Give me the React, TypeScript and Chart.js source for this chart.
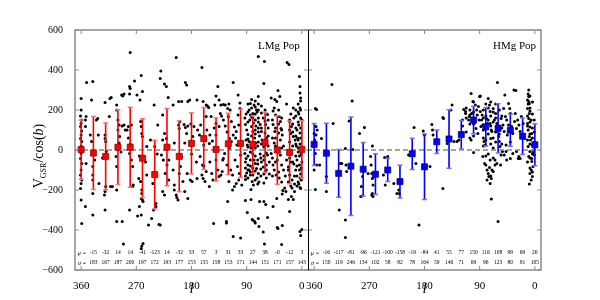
import React, { useEffect, useRef } from 'react';
import { Chart, registerables } from 'chart.js';
Chart.register(...registerables);

const FONT = '"Liberation Serif", "Times New Roman", serif';

// Galactic longitude bins (deg)
const BINS = [360, 340, 320, 300, 280, 260, 240, 220, 200, 180, 160, 140, 120, 100, 80, 60, 40, 20, 0];
// LMg population: mean and dispersion per bin
const L_MU = [2, -15, -32, 14, 14, -41, -123, 14, -32, 33, 57, 3, 31, 33, 27, 38, -0, -12, 3];
const L_SIGMA = [148, 183, 167, 187, 200, 197, 172, 193, 177, 153, 155, 158, 153, 171, 144, 151, 171, 157, 143];
// HMg population
const R_MU = [28, -16, -117, -81, -96, -121, -100, -158, -19, -84, 41, 55, 77, 150, 116, 108, 99, 69, 26];
const R_SIGMA = [105, 150, 119, 246, 134, 102, 58, 82, 78, 164, 59, 146, 71, 69, 96, 123, 80, 91, 105];

const X_TICK_LABELS = [360, 270, 180, 90, 0];
const Y_TICKS = [-600, -400, -200, 0, 200, 400, 600];

// individual stars [l, V/cos(b)]
const L_DOTS: number[][] = [
  [360,258],[360,200],[361,170],[359,150],[360,133],[361,117],[359,95],[360,75],[361,58],[359,42],[360,20],[352,167],[353,150],[353,117],
  [360,-17],[361,-42],[359,-67],[360,-100],[361,-125],[359,-150],[360,-167],[361,-192],[360,-250],[359,-367],[353,-283],[352,-67],
  [351,338],[341,342],[343,250],[333,158],[335,150],[343,42],[341,-25],[341,-83],[341,-125],[341,-150],[341,-217],[341,-325],[331,-167],[345,75],[338,-50],
  [321,237],[313,258],[311,262],[321,75],[321,58],[320,42],[332,75],[314,167],[320,-183],[321,-208],[322,-225],[321,-300],[309,-183],[312,-183],[319,-8],[325,-40],
  [302,225],[302,200],[292,270],[290,280],[294,275],[300,150],[298,125],[300,100],[293,120],[290,125],[288,100],[297,67],[302,-83],[302,-200],[302,-358],[293,-358],[291,-470],[298,35],[303,-33],[295,-10],
  [280,488],[281,317],[280,308],[281,280],[273,345],[269,275],[278,125],[283,117],[285,100],[281,-17],[278,-50],[276,-83],[275,-175],[276,-183],[281,-300],[283,60],[280,30],
  [262,372],[260,292],[264,250],[263,142],[262,117],[261,83],[260,67],[253,17],[266,-142],[263,-158],[261,-200],[261,-217],[262,-242],[260,-250],[259,-258],[265,-283],[262,-325],[268,-330],[261,-480],[262,-492],[259,-467],[265,-30],[255,-60],
  [241,225],[235,125],[240,17],[253,-125],[243,-167],[238,-267],[238,-283],[250,-375],[233,-372],[231,-375],[245,-342],[242,-300],[230,395],[231,357],[247,50],[236,-20],
  [224,330],[221,317],[227,175],[218,263],[224,83],[221,58],[227,50],[227,-208],[224,-225],[229,-25],[226,-50],[223,-117],[217,-150],[217,-50],[220,-75],
  [210,225],[205,463],[201,242],[199,142],[201,125],[200,108],[208,35],[208,-175],[208,-200],[205,-225],[204,-237],[202,-250],[200,-117],[198,-83],[194,-158],[191,-208],[186,-242],[187,-117],[210,-100],[196,-35],
  [196,242],[190,338],[188,325],[186,242],[183,250],[181,130],[186,120],[190,113],[192,128],[188,83],[191,35],[178,67],[176,117],[182,-150],[179,-158],[171,-142],[163,-125],[161,-142],[180,-20],[172,-60],
  [163,412],[171,250],[161,242],[156,225],[154,220],[152,212],[156,167],[148,167],[157,50],[151,33],[165,125],[156,-108],[158,-158],[151,-183],[160,-80],
  [170,100],[167,75],[160,25],[155,100],[150,75],[146,45],[143,110],[166,-33],[162,-75],[150,-60],[147,-117],[145,-150],
  [142,225],[140,270],[137,317],[135,250],[132,225],[140,133],[135,117],[140,75],[144,-367],[140,-50],[137,-100],[135,-133],[132,-125],[130,-108],[129,-50],[128,-42],[123,-358],[131,170],[128,228],[125,225],
  [133,183],[128,150],[125,120],[122,90],[118,58],[115,142],[110,115],[108,60],[106,25],[126,-17],[122,-75],[116,-100],[113,-125],[109,-50],[105,-83],[102,-117],[100,-25],
  [112,337],[121,208],[120,167],[104,275],[101,235],[101,208],[104,175],[103,125],[107,92],[112,75],[115,42],[118,8],[119,-157],[121,-257],[123,-365],[112,-433],[100,-440],[119,230],[117,200],[110,-183],[113,-200],[107,-167],[103,-150],[98,-175],
  [82,252],[71,268],[78,225],[76,215],[74,200],[84,233],[86,200],[80,183],[71,468],[61,443],[62,332],[50,260],[44,252],[45,210],[39,297],[36,267],[41,242],
  [93,160],[92,127],[90,100],[88,78],[91,50],[89,25],[85,150],[82,117],[80,93],[77,60],[75,35],[91,180],[84,175],[79,135],[73,190],[71,160],[68,127],[66,93],[63,160],[59,127],[56,177],[71,110],[80,160],[75,120],[69,70],[65,50],[86,42],[60,85],[58,60],[83,10],[72,20],[62,15],
  [88,230],[88,190],[88,140],[88,55],[88,15],[82,210],[82,165],[82,70],[82,30],[76,245],[76,180],[76,150],[76,100],[76,80],[76,10],
  [71,230],[71,200],[71,140],[71,90],[71,40],[66,220],[66,185],[66,110],[66,30],[60,200],[60,145],[60,40],[55,150],[55,110],[55,70],[55,20],
  [47,195],[47,128],[44,93],[43,60],[45,35],[37,167],[35,142],[34,108],[32,75],[35,50],[30,20],
  [48,150],[48,60],[48,-40],[48,-130],[43,175],[43,110],[43,20],[43,-60],[38,200],[38,130],[38,85],[38,-10],[38,-110],[33,160],[33,100],[33,10],[33,-160],
  [20,143],[17,117],[18,83],[14,67],[11,50],[8,100],[5,125],[3,85],[7,60],[9,20],[3,30],[13,160],[4,367],[3,318],[3,285],[2,245],[3,210],[5,180],[0,150],[24,437],[21,428],[14,210],[18,180],[25,230],[10,200],[6,230],
  [20,150],[20,100],[20,40],[20,-40],[15,130],[15,90],[15,20],[15,-60],[10,170],[10,110],[10,70],[10,30],[10,-30],[6,190],[6,140],[6,50],[6,10],[6,-10],[2,260],[2,200],[2,160],[2,110],[2,60],[2,5],
  [22,-100],[22,-160],[18,-60],[18,-180],[12,-130],[12,-170],[8,-80],[8,-130],[8,-180],[4,-30],[4,-100],[1,-150],[1,-90],
  [93,-17],[91,-42],[88,-75],[86,-100],[84,-125],[81,-158],[78,-50],[76,-67],[74,-92],[71,-117],[68,-20],[66,-60],[63,-85],[60,-110],[58,-140],[56,-25],[73,-140],[79,-175],[83,-198],[92,-148],[90,-115],[70,-160],[62,-30],
  [92,-60],[92,-90],[92,-130],[88,-30],[88,-100],[88,-140],[84,-10],[84,-50],[84,-80],[84,-110],[80,-20],[80,-90],[80,-125],[76,-30],[76,-105],[76,-150],
  [72,-50],[72,-70],[72,-170],[67,-40],[67,-95],[67,-130],[62,-50],[62,-120],[62,-165],[58,-15],[58,-75],[58,-100],[53,-60],[53,-120],
  [92,-252],[83,-248],[89,-312],[81,-348],[76,-365],[71,-343],[69,-257],[62,-257],[59,-273],[63,-410],[56,-337],[61,-470],[80,-350],[77,-358],[70,-383],
  [41,-243],[40,-387],[32,-377],[33,-473],[31,-203],[32,-220],[28,-190],[26,-207],[22,-248],[17,-232],[14,-248],[12,-207],[16,-190],[3,-187],[2,-193],[0,-398],[2,-427],[3,-408],[47,-283],[39,-392],[20,-308],
  [50,-17],[47,-75],[45,-100],[42,-125],[40,-50],[37,-140],[35,-25],[33,-75],[30,-100],[27,-130],[25,-50],[22,-85],[20,-125],[18,-20],[16,-150],[13,-70],[10,-100],[8,-50],[6,-160],[4,-75],[2,-120],[1,-20],[3,-140],[5,-170],[0,-60],
];

const R_DOTS: number[][] = [
  [358,208],[356,203],[357,117],[355,100],[360,83],[348,58],[357,75],[359,50],[331,328],[329,133],[309,7],[298,245],[303,145],[286,83],[278,113],[265,20],
  [358,-17],[356,-75],[360,-100],[358,-197],[351,-75],[340,-133],[340,-208],[341,-8],[319,-300],[317,-67],[315,-67],[309,-350],[309,-437],[308,-75],[307,-108],[297,3],[284,-233],[282,-230],[281,-133],[283,-183],[272,-117],[268,-33],[267,-75],[266,-117],[265,-142],[264,-175],[265,-217],[266,-225],[264,-233],[262,-133],
  [245,-37],[240,-33],[247,-125],[244,-175],[230,-167],[222,-200],[221,-217],[225,-217],[206,-25],[194,-67],[189,-375],[171,-83],[150,-192],
  [197,113],[182,95],[180,75],[168,128],[167,100],[166,75],[160,50],[150,162],[143,33],[149,158],[135,225],[137,200],[132,42],[127,42],[124,50],[116,203],[113,183],[108,150],[104,283],[103,183],[104,50],[107,167],
  [95,200],[92,217],[90,267],[89,270],[89,192],[87,150],[85,125],[84,100],[82,-67],[83,42],[81,25],[76,258],[74,225],[73,192],[73,133],[71,100],[72,58],[70,92],[73,-50],[70,-100],[72,-130],[71,-142],[74,-88],[71,-245],[65,-50],[64,183],[62,133],[61,338],[59,67],[58,42],[57,17],[56,-75],[55,-25],[53,-8],[49,275],[51,208],[48,167],[46,150],[47,25],[46,-50],[43,233],[41,208],[40,183],[43,125],[42,92],[40,40],[60,-358],[34,300],[31,297],[32,183],[33,142],[30,108],[27,-42],[22,167],[19,133],[24,92],[17,58],[24,-42],
  [113,192],[106,175],[101,242],[97,225],[94,175],[91,150],[88,117],[99,133],[96,108],[93,83],[86,175],[79,158],[77,133],[68,208],[66,150],[63,117],[55,158],[52,125],[50,92],[45,75],[38,117],[36,83],[28,150],[26,125],
  [84,200],[84,160],[84,60],[84,20],[80,230],[80,170],[80,110],[80,50],[80,-30],[76,210],[76,150],[76,80],[76,-20],[72,240],[72,170],[72,120],[72,30],
  [68,190],[68,140],[68,60],[68,10],[68,-40],[64,230],[64,160],[64,90],[64,40],[58,200],[58,120],[58,80],[54,170],[54,110],[54,30],
  [118,150],[118,120],[112,210],[112,160],[112,90],[106,200],[106,130],[106,60],[100,240],[100,190],[100,130],[100,70],
  [11,280],[10,267],[9,233],[10,242],[12,208],[9,183],[6,150],[10,158],[12,133],[8,115],[11,100],[5,83],[9,67],[7,50],[4,25],[11,17],[8,-8],[10,-33],[5,-58],[3,-83],[6,-100],[8,-117],[4,-133],[6,-150],[9,-170],[5,-42],[2,0],[1,-25],[3,-12],[10,300],[11,230],[8,195],
  [12,250],[12,170],[12,120],[12,50],[12,-60],[8,270],[8,210],[8,140],[8,80],[8,30],[8,-40],[8,-90],[4,240],[4,180],[4,110],[4,60],[4,-20],[4,-110],[1,150],[1,90],[1,40],
  [100,-12],[85,-33],[80,-75],[78,-100],[76,-117],[75,-133],[78,-150],[73,-167],[68,-108],[65,-75],[62,-67],[50,-25],[47,-8],[40,-42],[36,-17],[30,-8],[26,-33],
];

// panel coordinate transforms (left panel occupies 0..380, right panel 380..760)
const toPL = (l: number) => 370 - l;
const toPR = (l: number) => 750 - l;
const SPLIT = 380;

const fmt = (v: number) => (v < 0 || Object.is(v, -0) ? '-' + Math.abs(v) : String(v));

function errorLines(mu: number[], sig: number[], tp: (l: number) => number) {
  const pts: any[] = [];
  BINS.forEach((l, i) => {
    const p = tp(l);
    pts.push({ x: p, y: mu[i] - sig[i] }, { x: p, y: mu[i] + sig[i] }, { x: p, y: null });
  });
  return pts;
}
function capLines(mu: number[], sig: number[], tp: (l: number) => number) {
  const pts: any[] = [];
  BINS.forEach((l, i) => {
    const p = tp(l);
    for (const v of [mu[i] - sig[i], mu[i] + sig[i]]) {
      pts.push({ x: p - 4, y: v }, { x: p + 4, y: v }, { x: p, y: null });
    }
  });
  return pts;
}

const X_TICKS = [
  ...X_TICK_LABELS.map((l) => ({ p: toPL(l), l })),
  ...X_TICK_LABELS.map((l) => ({ p: toPR(l), l })),
];

const decor = {
  id: 'decor',
  afterDatasetsDraw(chart: any) {
    const { ctx, chartArea: a, scales } = chart;
    const x = scales.x, y = scales.y;
    ctx.save();
    // frame
    ctx.strokeStyle = '#8a8a8a';
    ctx.lineWidth = 1.5;
    ctx.strokeRect(a.left, a.top, a.right - a.left, a.bottom - a.top);
    // ticks (inward)
    ctx.lineWidth = 1;
    const xd = x.getPixelForValue(SPLIT);
    ctx.beginPath();
    for (const v of Y_TICKS) {
      const py = y.getPixelForValue(v);
      ctx.moveTo(a.left, py); ctx.lineTo(a.left + 4, py);
      ctx.moveTo(a.right - 4, py); ctx.lineTo(a.right, py);
      ctx.moveTo(xd - 4, py); ctx.lineTo(xd + 4, py);
    }
    for (const t of X_TICKS) {
      const px = x.getPixelForValue(t.p);
      ctx.moveTo(px, a.bottom); ctx.lineTo(px, a.bottom - 4);
      ctx.moveTo(px, a.top); ctx.lineTo(px, a.top + 4);
    }
    ctx.stroke();
    // divider
    ctx.strokeStyle = '#000';
    ctx.lineWidth = 1;
    ctx.beginPath();
    ctx.moveTo(Math.round(xd) + 0.5, a.top);
    ctx.lineTo(Math.round(xd) + 0.5, a.bottom);
    ctx.stroke();

    // panel names
    ctx.fillStyle = '#000';
    ctx.font = `normal 11px ${FONT}`;
    ctx.textBaseline = 'alphabetic';
    ctx.textAlign = 'left';
    ctx.fillText('LMg Pop', 258, 49);
    ctx.fillText('HMg Pop', 493, 49);

    // mu / sigma rows
    ctx.textAlign = 'center';
    ctx.textBaseline = 'middle';
    const rows = (mu: number[], sig: number[], tp: (l: number) => number) => {
      BINS.forEach((l, i) => {
        const px = x.getPixelForValue(tp(l));
        if (i === 0) {
          ctx.font = `italic 6px ${FONT}`;
          ctx.fillText('\u03bc =', px + 1, 253);
          ctx.fillText('\u03c3 =', px + 1, 263);
        } else {
          ctx.font = `normal 5.5px ${FONT}`;
          ctx.fillText(fmt(mu[i]), px, 253);
          ctx.fillText(String(sig[i]), px, 263);
        }
      });
    };
    rows(L_MU, L_SIGMA, toPL);
    rows(R_MU, R_SIGMA, toPR);

    // x axis labels "l"
    ctx.font = `italic 15px ${FONT}`;
    ctx.textBaseline = 'alphabetic';
    ctx.fillText('l', x.getPixelForValue(toPL(180)), 293);
    ctx.fillText('l', x.getPixelForValue(toPR(180)), 293);

    // y axis label V_GSR/cos(b)
    ctx.translate(43, 156);
    ctx.rotate(-Math.PI / 2);
    const parts = [
      { t: 'V', f: `normal 14px ${FONT}`, dy: 0 },
      { t: 'GSR', f: `normal 8px ${FONT}`, dy: 3 },
      { t: '/cos(', f: `normal 14px ${FONT}`, dy: 0 },
      { t: 'b', f: `italic 14px ${FONT}`, dy: 0 },
      { t: ')', f: `normal 14px ${FONT}`, dy: 0 },
    ];
    let total = 0;
    for (const p of parts) { ctx.font = p.f; total += ctx.measureText(p.t).width; }
    let cx = -total / 2;
    ctx.textAlign = 'left';
    for (const p of parts) {
      ctx.font = p.f;
      ctx.fillText(p.t, cx, p.dy);
      cx += ctx.measureText(p.t).width;
    }
    ctx.restore();
  },
};

export default function App() {
  const ref = useRef<HTMLCanvasElement>(null);
  useEffect(() => {
    if (!ref.current) return;
    const dots = [
      ...L_DOTS.map(([l, v]) => ({ x: toPL(l), y: v })),
      ...R_DOTS.map(([l, v]) => ({ x: toPR(l), y: v })),
    ];
    const chart = new Chart(ref.current, {
      type: 'scatter',
      data: {
        datasets: [
          { type: 'scatter', data: dots, pointRadius: 1.5, backgroundColor: '#000', borderWidth: 0, order: 6 } as any,
          { type: 'line', data: [{ x: 0, y: 0 }, { x: 760, y: 0 }], borderColor: '#888', borderWidth: 1.6, borderDash: [5, 3], pointRadius: 0, order: 5 } as any,
          { type: 'line', data: errorLines(L_MU, L_SIGMA, toPL), borderColor: '#ff0000', borderWidth: 1.6, pointRadius: 0, spanGaps: false, order: 4 } as any,
          { type: 'line', data: capLines(L_MU, L_SIGMA, toPL), borderColor: '#ff7070', borderWidth: 1.5, pointRadius: 0, spanGaps: false, order: 3 } as any,
          { type: 'line', data: errorLines(R_MU, R_SIGMA, toPR), borderColor: '#0000ff', borderWidth: 1.6, pointRadius: 0, spanGaps: false, order: 4 } as any,
          { type: 'line', data: capLines(R_MU, R_SIGMA, toPR), borderColor: '#7070ff', borderWidth: 1.5, pointRadius: 0, spanGaps: false, order: 3 } as any,
          { type: 'scatter', data: BINS.map((l, i) => ({ x: toPL(l), y: L_MU[i] })), pointStyle: 'rect', pointRadius: 4.3, backgroundColor: '#ff0000', borderColor: '#7a0000', borderWidth: 0.7, order: 1 } as any,
          { type: 'scatter', data: BINS.map((l, i) => ({ x: toPR(l), y: R_MU[i] })), pointStyle: 'rect', pointRadius: 4.3, backgroundColor: '#0000ff', borderColor: '#00007a', borderWidth: 0.7, order: 1 } as any,
        ],
      },
      options: {
        animation: false,
        responsive: false,
        events: [],
        layout: { padding: { left: 0, right: 59, top: 30, bottom: 0 } },
        plugins: { legend: { display: false }, tooltip: { enabled: false } },
        scales: {
          x: {
            type: 'linear',
            min: 0,
            max: 760,
            grid: { display: false },
            border: { display: false },
            afterBuildTicks: (scale: any) => { scale.ticks = X_TICKS.map((t) => ({ value: t.p })); },
            afterFit: (scale: any) => { scale.height = 30; },
            ticks: {
              autoSkip: false,
              maxRotation: 0,
              padding: 2,
              color: '#000',
              font: { family: FONT, size: 11 },
              callback: (v: any) => {
                const t = X_TICKS.find((q) => q.p === v);
                return t ? String(t.l) : '';
              },
            },
          },
          y: {
            type: 'linear',
            min: -600,
            max: 600,
            grid: { display: false },
            border: { display: false },
            afterBuildTicks: (scale: any) => { scale.ticks = Y_TICKS.map((v) => ({ value: v })); },
            afterFit: (scale: any) => { scale.width = 75; },
            ticks: {
              padding: 4,
              color: '#000',
              font: { family: FONT, size: 10 },
              callback: (v: any) => (v < 0 ? '\u2212' + Math.abs(v) : String(v)),
            },
          },
        },
      },
      plugins: [decor],
    } as any);
    return () => chart.destroy();
  }, []);
  return (
    <div style={{ position: 'absolute', left: 0, top: 0, width: 600, height: 300, background: '#fff' }}>
      <canvas ref={ref} width={600} height={300} style={{ display: 'block' }} />
    </div>
  );
}
